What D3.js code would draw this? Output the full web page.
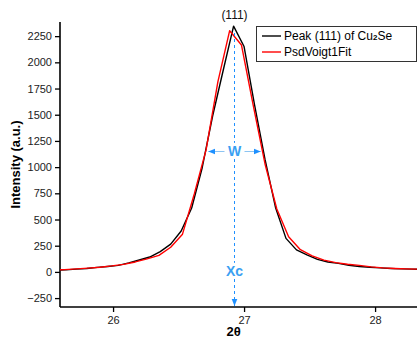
<!DOCTYPE html>
<html>
<head>
<meta charset="utf-8">
<script src="https://cdn.jsdelivr.net/npm/d3@7"></script>
<style>
body { margin: 0; background: #fff; }
svg { font-family: Arial, "Liberation Sans", sans-serif; }
</style>
</head>
<body>
<svg id="chart" width="417" height="341"></svg>
<script>
// measured pattern (black)
const dataX = [25.56, 25.64, 25.72, 25.80, 25.88, 25.96, 26.04, 26.12, 26.20, 26.28, 26.36, 26.44,
	26.52, 26.60, 26.68, 26.76, 26.84, 26.92, 27.00, 27.08, 27.16, 27.24, 27.32, 27.40, 27.48,
	27.56, 27.64, 27.72, 27.80, 27.88, 27.96, 28.04, 28.12, 28.20, 28.28, 28.36];
const dataY = [15, 19, 26, 33, 43, 52, 62, 86, 114, 142, 194, 265,
	390, 610, 992, 1488, 1920, 2345, 2151, 1593, 1073, 615, 320, 210, 162,
	119, 95, 81, 64, 52, 45, 38, 33, 29, 26, 24];

// PsdVoigt1 fit (red)
const fitX = [25.54, 25.63, 25.72, 25.81, 25.90, 25.99, 26.08, 26.17, 26.26, 26.35, 26.44,
	26.53, 26.62, 26.71, 26.80, 26.89, 26.98, 27.07, 27.16, 27.25, 27.34, 27.43, 27.52,
	27.61, 27.70, 27.79, 27.88, 27.97, 28.06, 28.15, 28.24, 28.33, 28.42];
const fitY = [18, 22, 29, 36, 45, 57, 72, 95, 124, 157, 235,
	360, 744, 1164, 1813, 2302, 2166, 1590, 1030, 600, 335, 212, 153,
	112, 89, 73, 62, 48, 38, 33, 29, 26, 24];

const xTicks = [26, 27, 28];
const yTicks = [-250, 0, 250, 500, 750, 1000, 1250, 1500, 1750, 2000, 2250];

const xc = 26.92;
const wLeft = 26.727, wRight = 27.127, wLevel = 1155;
const blue = "#1e90ff";

var svg = d3.select("#chart");
const m = {left: 60, right: 417, top: 22, bottom: 307};

var x = d3.scaleLinear().domain([25.595, 28.32]).range([m.left, m.right]);
var y = d3.scaleLinear().domain([-335, 2385]).range([m.bottom, m.top]);

svg.append("defs").append("clipPath").attr("id", "clip")
	.append("rect").attr("x", m.left).attr("y", 0).attr("width", m.right - m.left).attr("height", m.bottom);

// axes
var xAxis = svg.append("g").attr("transform", "translate(0," + m.bottom + ")")
	.call(d3.axisBottom(x).tickValues(xTicks).tickSize(5).tickPadding(4).tickFormat(d3.format("d")));
var yAxis = svg.append("g").attr("transform", "translate(" + m.left + ",0)")
	.call(d3.axisLeft(y).tickValues(yTicks).tickSize(5).tickPadding(3).tickFormat(d3.format("d")));
[xAxis, yAxis].forEach(function(a) {
	a.select(".domain").attr("stroke", "#000").attr("stroke-width", 1.6);
	a.selectAll(".tick line").attr("stroke", "#000").attr("stroke-width", 1.3);
	a.selectAll(".tick text").attr("font-size", "11px").attr("fill", "#222")
		.attr("font-family", "Arial, 'Liberation Sans', sans-serif");
});
xAxis.select(".domain").attr("d", "M" + m.left + ",0H" + m.right);
yAxis.select(".domain").attr("d", "M0," + m.top + "V" + m.bottom);

svg.append("text").attr("transform", "translate(17," + ((m.top + m.bottom) / 2) + ") rotate(-90)")
	.attr("text-anchor", "middle").attr("dominant-baseline", "middle")
	.attr("font-size", "13px").attr("font-weight", "bold").text("Intensity (a.u.)");
svg.append("text").attr("x", x(xc)).attr("y", 336)
	.attr("text-anchor", "middle").attr("font-size", "13px").attr("font-weight", "bold").text("2θ");

// curves
var line = d3.line().x(function(d) {return x(d[0])}).y(function(d) {return y(d[1])});
var curves = svg.append("g").attr("clip-path", "url(#clip)");
curves.append("path").datum(d3.zip(dataX, dataY)).attr("d", line)
	.attr("fill", "none").attr("stroke", "#000").attr("stroke-width", 1.4).attr("stroke-linejoin", "round");
curves.append("path").datum(d3.zip(fitX, fitY)).attr("d", line)
	.attr("fill", "none").attr("stroke", "#ff0000").attr("stroke-width", 1.4).attr("stroke-linejoin", "round");

// markers
var defs = svg.select("defs");
defs.append("marker").attr("id", "arr").attr("viewBox", "0 0 10 10").attr("refX", 10).attr("refY", 5)
	.attr("markerWidth", 7).attr("markerHeight", 7).attr("markerUnits", "userSpaceOnUse").attr("orient", "auto-start-reverse")
	.append("path").attr("d", "M0,1L10,5L0,9Z").attr("fill", blue);

// Xc dashed line
var xcPx = Math.round(x(xc)) + 0.5;
svg.append("line").attr("x1", xcPx).attr("x2", xcPx).attr("y1", y(2280)).attr("y2", m.bottom - 1)
	.attr("stroke", blue).attr("stroke-width", 1).attr("stroke-dasharray", "3,3")
	.attr("marker-end", "url(#arr)");

// W arrow
svg.append("line").attr("x1", x(wLeft)).attr("x2", x(wRight)).attr("y1", Math.round(y(wLevel)) + 0.5).attr("y2", Math.round(y(wLevel)) + 0.5)
	.attr("stroke", "#8cc4f2").attr("stroke-width", 1.2)
	.attr("marker-start", "url(#arr)").attr("marker-end", "url(#arr)");

function blueLabel(txt, v) {
	svg.append("rect").attr("x", xcPx - 10).attr("y", y(v) - 8).attr("width", 20).attr("height", 16).attr("fill", "#fff");
	svg.append("text").attr("x", xcPx).attr("y", y(v)).attr("dy", "0.36em").attr("text-anchor", "middle")
		.attr("font-size", "14px").attr("font-weight", "bold").attr("fill", "#3aa0f2").text(txt);
}
blueLabel("W", wLevel);
blueLabel("Xc", 10);

svg.append("text").attr("x", xcPx).attr("y", 19).attr("text-anchor", "middle")
	.attr("font-size", "12px").attr("fill", "#111").text("(111)");

// legend
var lg = svg.append("g");
lg.append("rect").attr("x", 256.5).attr("y", 26.5).attr("width", 160).attr("height", 35)
	.attr("fill", "#fff").attr("stroke", "#333").attr("stroke-width", 1);
const legendItems = [{c: "#000", y: 36}, {c: "#ff0000", y: 52}];
legendItems.forEach(function(d) {
	lg.append("line").attr("x1", 262).attr("x2", 281).attr("y1", d.y).attr("y2", d.y)
		.attr("stroke", d.c).attr("stroke-width", 1.4);
});
var t1 = lg.append("text").attr("x", 284).attr("y", 40).attr("font-size", "12px");
t1.append("tspan").text("Peak (111) of Cu");
t1.append("tspan").attr("font-size", "8px").attr("font-weight", "bold").text("2");
t1.append("tspan").text("Se");
lg.append("text").attr("x", 284).attr("y", 56).attr("font-size", "12px").text("PsdVoigt1Fit");
</script>
</body>
</html>
